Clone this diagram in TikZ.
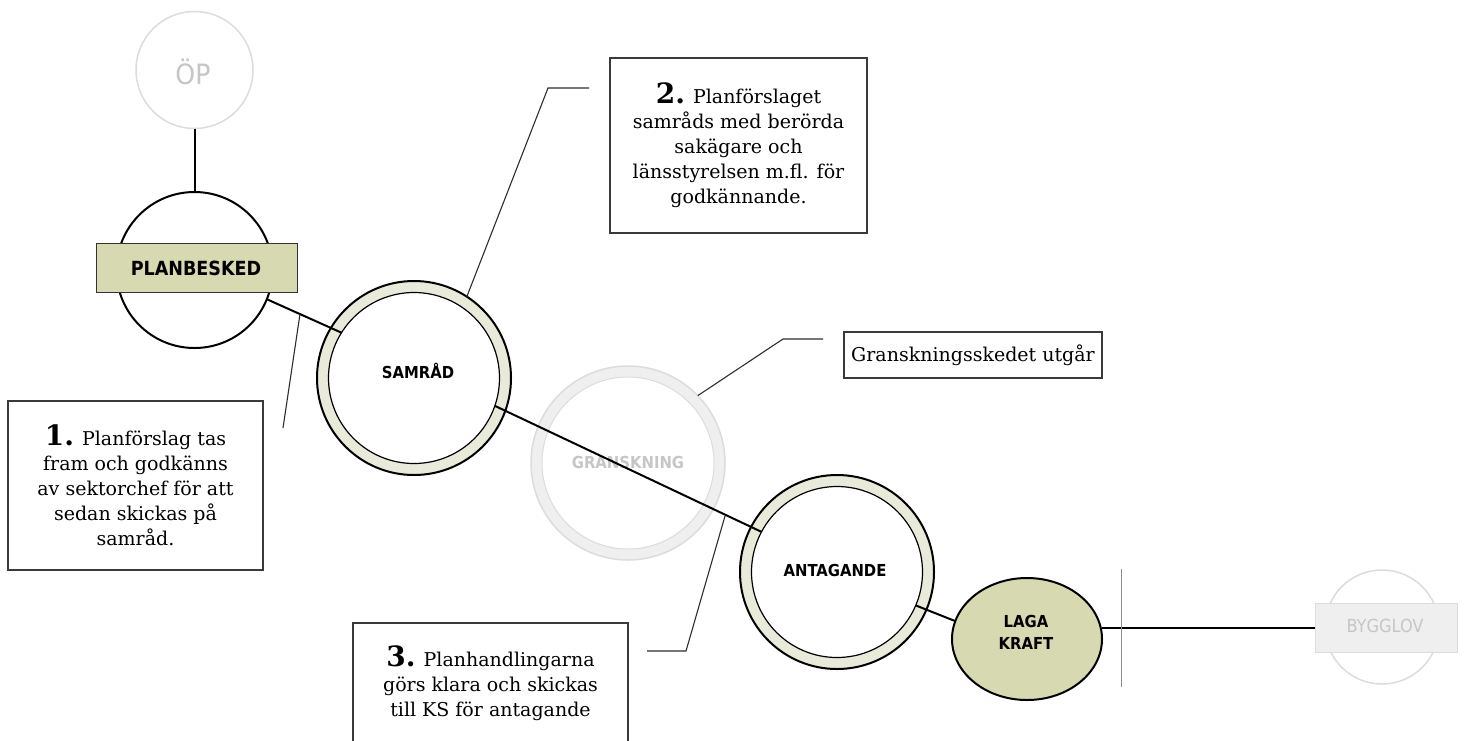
\documentclass[tikz,border=0pt]{standalone}
\usepackage{fontspec}
\usetikzlibrary{shapes.geometric}
\setmainfont{DejaVu Serif}
\newfontfamily\lblfont{DejaVu Sans Condensed}[BoldFont={DejaVu Sans Condensed Bold}]
\definecolor{khaki}{HTML}{D7D9B0}
\definecolor{ringfill}{HTML}{E9EADA}
\definecolor{faintline}{HTML}{DCDCDC}
\definecolor{fainttext}{HTML}{C6C6C6}
\definecolor{faintfill}{HTML}{EFEFEF}
\definecolor{boxline}{HTML}{3A3A3A}
\definecolor{callline}{HTML}{2E2E2E}
\begin{document}
\begin{tikzpicture}[x=1pt,y=-1pt,
  lbl/.style={font=\lblfont\bfseries\fontsize{16.5}{22}\selectfont, align=center, inner sep=0},
  ringout/.style={circle, draw=black, line width=2pt, fill=ringfill, minimum size=194pt, inner sep=0, outer sep=0},
  ringin/.style={circle, draw=black, line width=1.2pt, fill=white, minimum size=171pt, inner sep=0, outer sep=0},
  fringout/.style={circle, draw=faintline, line width=1.5pt, fill=faintfill, minimum size=194pt, inner sep=0, outer sep=0},
  fringin/.style={circle, draw=faintline, line width=1pt, fill=white, minimum size=172pt, inner sep=0, outer sep=0},
  conn/.style={draw=black, line width=2pt},
  callout/.style={draw=callline, line width=1.1pt},
  tbox/.style={draw=boxline, line width=1.2pt, fill=white, inner sep=0, align=center, font=\fontsize{19}{25}\selectfont},
  numtxt/.style={font=\fontsize{28}{25}\selectfont\bfseries},
]
\useasboundingbox (0,0) rectangle (1464,740);
\fill[white] (0,0) rectangle (1464,740);

% OP
\node[circle, draw=faintline, line width=1.5pt, fill=white, minimum size=117pt, inner sep=0, outer sep=0] (op) at (194.5,70) {};
\node[font=\lblfont\fontsize{28}{30}\selectfont, text=fainttext, inner sep=0] (opt) at (193,72) {ÖP};

% PLANBESKED
\node[circle, draw=black, line width=2pt, fill=white, minimum size=156pt, inner sep=0, outer sep=0] (pb) at (194.5,270) {};
\node[draw=black!80, line width=1pt, fill=khaki, minimum width=201pt, minimum height=49pt, inner sep=0] (pbbox) at (196.5,267.5) {};
\node[lbl, font=\lblfont\bfseries\fontsize{19.5}{22}\selectfont] (pbt) at (196,268) {PLANBESKED};

% SAMRAD
\node[ringout] (samo) at (414,378) {};
\node[ringin] (sami) at (414,378) {};
\node[lbl] (samt) at (418,371) {SAMRÅD};

% GRANSKNING
\node[fringout] (gro) at (628,463) {};
\node[fringin] (gri) at (628,463) {};
\node[lbl, text=fainttext] (grt) at (628,462) {GRANSKNING};

% ANTAGANDE
\node[ringout] (anto) at (837,572) {};
\node[ringin] (anti) at (837,572) {};
\node[lbl] (antt) at (835,570) {ANTAGANDE};

% LAGA KRAFT
\node[ellipse, draw=black, line width=2pt, fill=khaki, minimum width=150pt, minimum height=122pt, inner sep=0, outer sep=0] (lk) at (1027,639) {};
\node[lbl] (lkt) at (1026,632) {LAGA\\KRAFT};

% BYGGLOV
\node[circle, draw=faintline, line width=1.5pt, fill=white, minimum size=114pt, inner sep=0, outer sep=0] (bg) at (1382,627) {};
\node[draw=faintline, line width=1pt, fill=faintfill, minimum width=142pt, minimum height=49pt, inner sep=0, outer sep=0] (bgbox) at (1386,627.5) {};
\node[font=\lblfont\fontsize{18}{20}\selectfont, text=fainttext, inner sep=0] (bgt) at (1385,626) {BYGGLOV};

% connectors
\draw[conn] (op.south) -- (pb.north);
\draw[conn] (pb.-22) -- (sami.148);
\draw[conn] (sami.-19) -- (anti.152);
\draw[conn] (anti.-23) -- (lk.166);
\draw[conn] (bgbox.west) -- (bgbox.west -| lk.east);

% divider
\coordinate (dv1) at (1121,569);
\coordinate (dv2) at (1121,687);
\draw[draw=black!45, line width=1pt] (dv1) -- (dv2);

% text boxes
\node[tbox, minimum width=255pt, minimum height=169pt] (b1) at (135.5,485.5)
  {{\fontsize{28}{25}\selectfont\bfseries 1.} Planförslag tas\\fram och godkänns\\av sektorchef för att\\sedan skickas på\\samråd.};
\node[tbox, minimum width=257pt, minimum height=175pt] (b2) at (738.5,145.5)
  {{\fontsize{28}{25}\selectfont\bfseries 2.} Planförslaget\\samråds med berörda\\sakägare och\\länsstyrelsen m.fl. för\\godkännande.};
\node[tbox, minimum width=258pt, minimum height=46pt] (bg2) at (973,355)
  {Granskningsskedet utgår};
\node[tbox, minimum width=275pt, minimum height=120pt] (b3) at (490.5,683)
  {{\fontsize{28}{25}\selectfont\bfseries 3.} Planhandlingarna\\görs klara och skickas\\till KS för antagande};

% callouts
\coordinate (c1a) at (300,314);
\coordinate (c1b) at (283,428);
\draw[callout] (c1a) -- (c1b);
\coordinate (c2k) at (548,88);
\coordinate (c2e) at (589,88);
\draw[callout] (samo.57.6) -- (c2k) -- (c2e);
\coordinate (cgk) at (783,339);
\coordinate (cge) at (823,339);
\draw[callout] (gro.44) -- (cgk) -- (cge);
\coordinate (c3a) at (725,516);
\coordinate (c3k) at (686,651);
\coordinate (c3e) at (647,651);
\draw[callout] (c3a) -- (c3k) -- (c3e);
\end{tikzpicture}
\end{document}
